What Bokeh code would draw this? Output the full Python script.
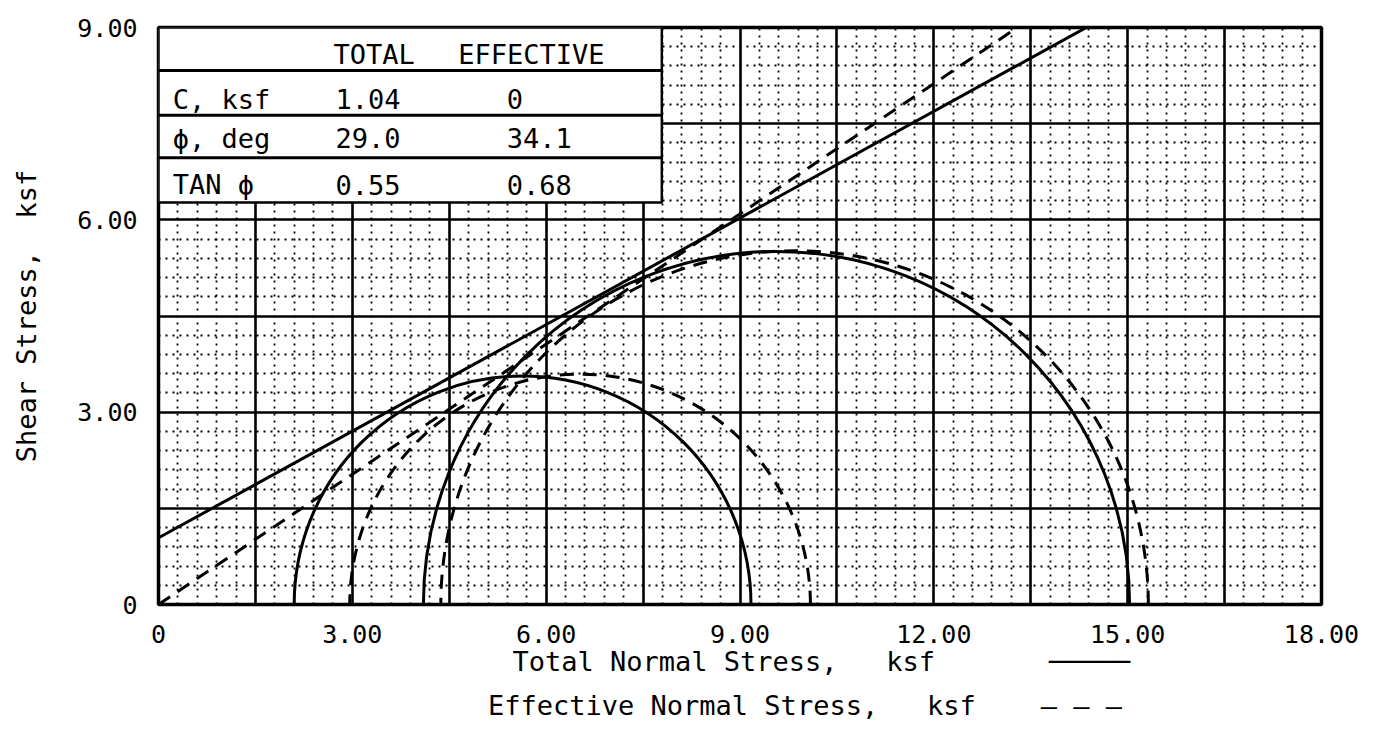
import numpy as np
from bokeh.plotting import figure
from bokeh.models import FixedTicker, Slope, Range1d, LinearAxis
from bokeh.core.properties import value
from bokeh.embed import file_html
from bokeh.resources import INLINE

# ---------------- data ----------------
# Mohr circles (principal stresses, ksf)
total_sigma3 = [2.10, 4.10]
total_sigma1 = [9.17, 15.03]
eff_sigma3 = [2.96, 4.37]
eff_sigma1 = [10.09, 15.32]

# strength envelopes
cohesion = [1.04, 0.0]          # total, effective
phi_deg = [29.0, 34.1]          # total, effective

# summary table
table_header = ["TOTAL", "EFFECTIVE"]
param_names = ["C, ksf", "\u03d5, deg", "TAN \u03d5"]
total_params = ["1.04", "29.0", "0.55"]
eff_params = ["0", "34.1", "0.68"]

# axis ticks
x_ticks = [0, 3, 6, 9, 12, 15, 18]
x_tick_labels = ["0", "3.00", "6.00", "9.00", "12.00", "15.00", "18.00"]
y_ticks = [0, 3, 6, 9]
y_tick_labels = ["0", "3.00", "6.00", "9.00"]

FONT = "DejaVu Sans Mono"
SP = "\u00a0"

# axis titles (legend line samples written as line-drawing characters)
x_title_total = SP * 10 + "Total" + SP + "Normal" + SP + "Stress," + SP * 3 + "ksf" + SP * 7 + "\u2500" * 5
x_title_eff = SP * 8 + "Effective" + SP + "Normal" + SP + "Stress," + SP * 3 + "ksf" + SP * 4 + "\u2013" + SP + "\u2013" + SP + "\u2013"
y_title = "Shear" + SP + "Stress," + SP * 2 + "ksf"

# ---------------- figure ----------------
p = figure(width=1370, height=727, x_range=Range1d(0, 18), y_range=Range1d(0, 9),
           output_backend="svg", toolbar_location=None,
           min_border_left=158, min_border_right=49, min_border_top=27, min_border_bottom=123)
p.background_fill_color = "white"
p.border_fill_color = "white"
p.outline_line_color = "black"
p.outline_line_width = 3.5
p.outline_line_alpha = 1.0

# grid: major every 1.5, dotted minor every 0.3
maj_x = [i * 1.5 for i in range(13)]
maj_y = [i * 1.5 for i in range(7)]
min_x = [round(i * 0.3, 4) for i in range(61) if i % 5 != 0]
min_y = [round(i * 0.3, 4) for i in range(31) if i % 5 != 0]
for g, maj, mn in ((p.xgrid, maj_x, min_x), (p.ygrid, maj_y, min_y)):
    g.ticker = FixedTicker(ticks=maj, minor_ticks=mn)
    g.grid_line_color = "black"
    g.grid_line_width = 2.6
    g.grid_line_alpha = 1.0
    g.minor_grid_line_color = "black"
    g.minor_grid_line_width = 1.8
    g.minor_grid_line_dash = "2 5"
    g.minor_grid_line_alpha = 1.0

# axes
p.xaxis.ticker = FixedTicker(ticks=x_ticks)
p.xaxis.major_label_overrides = {t: l for t, l in zip(x_ticks, x_tick_labels)}
p.yaxis.ticker = FixedTicker(ticks=y_ticks)
p.yaxis.major_label_overrides = {t: l for t, l in zip(y_ticks, y_tick_labels)}
for ax in (p.xaxis, p.yaxis):
    ax.axis_line_color = None
    ax.major_tick_line_color = None
    ax.minor_tick_line_color = None
    ax.major_tick_out = 0
    ax.major_tick_in = 0
    ax.major_label_text_font = FONT
    ax.major_label_text_font_size = "25px"
    ax.major_label_text_color = "black"
    ax.axis_label_text_font = FONT
    ax.axis_label_text_font_style = "normal"
    ax.axis_label_text_color = "black"
p.xaxis.major_label_standoff = 20
p.yaxis.major_label_standoff = 21

p.xaxis.axis_label = x_title_total
p.xaxis.axis_label_text_font_size = "27px"
p.xaxis.axis_label_standoff = 0

p.yaxis.axis_label = y_title
p.yaxis.axis_label_text_font_size = "27px"
p.yaxis.axis_label_standoff = 32

ax2 = LinearAxis(ticker=FixedTicker(ticks=[]), axis_label=x_title_eff,
                 axis_line_color=None, major_tick_line_color=None, minor_tick_line_color=None,
                 major_tick_out=0, major_tick_in=0, major_label_standoff=0,
                 axis_label_text_font=FONT, axis_label_text_font_style="normal",
                 axis_label_text_font_size="27px", axis_label_text_color="black",
                 axis_label_standoff=10)
p.add_layout(ax2, "below")

# ---------------- Mohr circles ----------------
t_c = [(a + b) / 2 for a, b in zip(total_sigma1, total_sigma3)]
t_r = [(a - b) / 2 for a, b in zip(total_sigma1, total_sigma3)]
e_c = [(a + b) / 2 for a, b in zip(eff_sigma1, eff_sigma3)]
e_r = [(a - b) / 2 for a, b in zip(eff_sigma1, eff_sigma3)]
p.arc(x=t_c, y=[0] * len(t_c), radius=t_r, start_angle=0, end_angle=np.pi,
      line_color="black", line_width=3)
p.arc(x=e_c, y=[0] * len(e_c), radius=e_r, start_angle=0, end_angle=np.pi,
      line_color="black", line_width=3, line_dash="14 9")

# ---------------- envelopes ----------------
p.add_layout(Slope(gradient=float(np.tan(np.radians(phi_deg[0]))), y_intercept=cohesion[0],
                   line_color="black", line_width=3))
p.add_layout(Slope(gradient=float(np.tan(np.radians(phi_deg[1]))), y_intercept=cohesion[1],
                   line_color="black", line_width=3, line_dash="14 9"))

# ---------------- table ----------------
TR, TB = 7.79, 6.27
p.quad(left=0, right=TR, bottom=TB, top=9, fill_color="white", line_color="black", line_width=2.5)
p.segment(x0=[0, 0, 0], x1=[TR, TR, TR], y0=[8.33, 7.63, 6.97], y1=[8.33, 7.63, 6.97],
          line_color="black", line_width=3)
tkw = dict(text_font=value(FONT), text_font_size="27px", text_baseline="middle",
           text_align="left", text_color="black")
p.text(x=[2.71, 4.64], y=[8.58, 8.58], text=table_header, **tkw)
row_y = [7.88, 7.27, 6.55]
p.text(x=[0.22] * 3, y=row_y, text=param_names, **tkw)
p.text(x=[2.74] * 3, y=row_y, text=total_params, **tkw)
p.text(x=[5.39] * 3, y=row_y, text=eff_params, **tkw)

open("out.html", "w").write(file_html(p, INLINE))
